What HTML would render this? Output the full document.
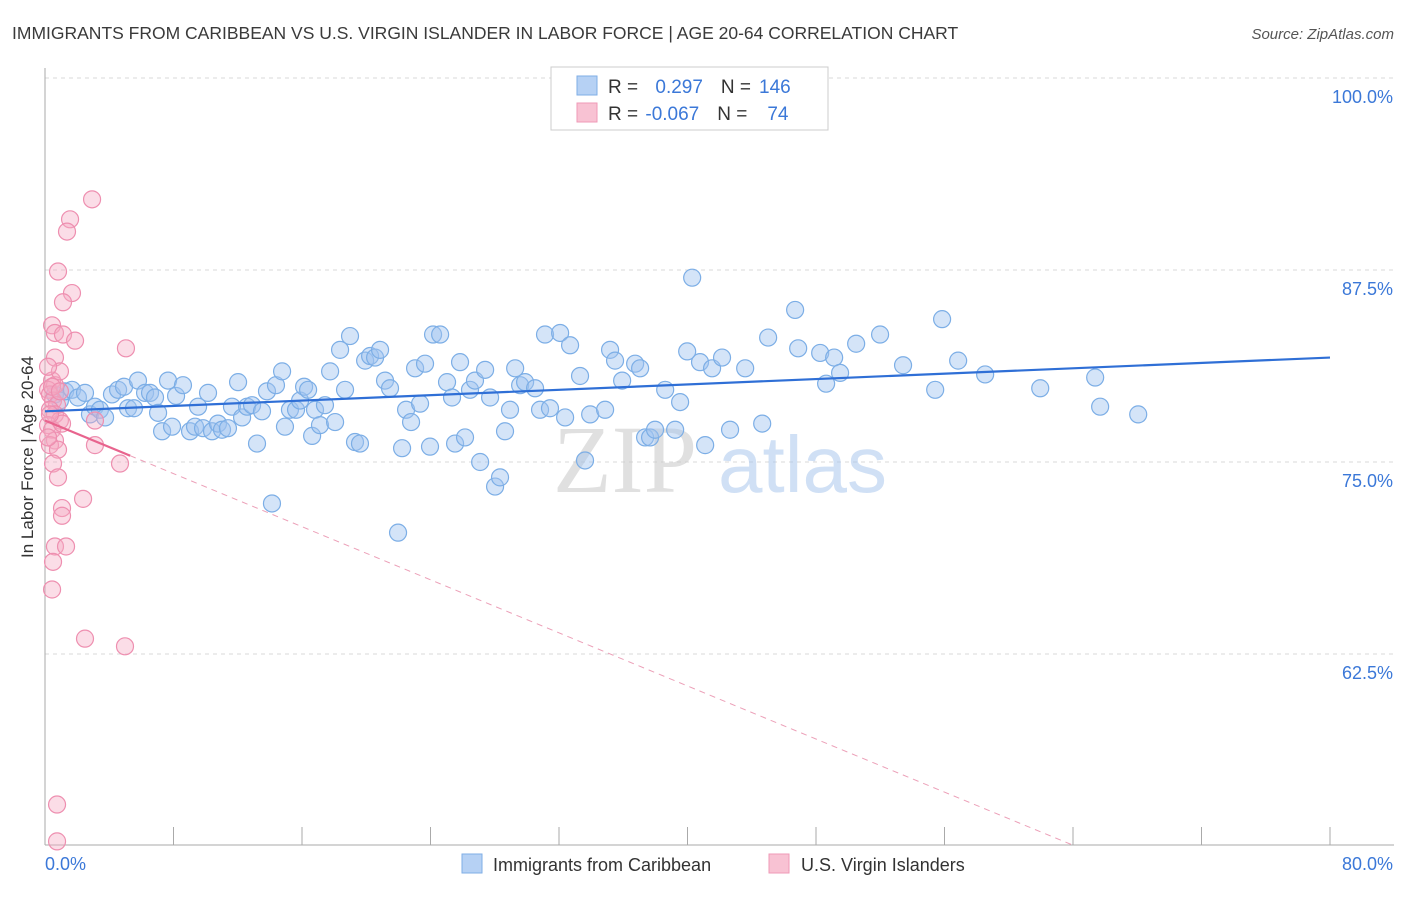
<!DOCTYPE html>
<html><head><meta charset="utf-8"><style>
body{margin:0;background:#fff;font-family:"Liberation Sans",sans-serif}
</style></head><body>
<svg id="chart" width="1406" height="892" xmlns="http://www.w3.org/2000/svg" font-family="Liberation Sans, sans-serif">
<text x="12" y="39" font-size="17.5" fill="#3a3a3a">IMMIGRANTS FROM CARIBBEAN VS U.S. VIRGIN ISLANDER IN LABOR FORCE | AGE 20-64 CORRELATION CHART</text>
<text x="1394" y="39" font-size="15" fill="#555" font-style="italic" text-anchor="end">Source: ZipAtlas.com</text>
<g id="grid"></g>
<g>
<text x="553" y="492" font-size="96" fill="#ccc" fill-opacity="0.6" font-family="Liberation Serif, serif">ZIP</text>
<text x="718" y="492" font-size="80" fill="#a9c6ec" fill-opacity="0.55">atlas</text>
</g>
<g id="pts"></g>
<g id="trend"></g>
<text transform="translate(33,457) rotate(-90)" font-size="17" fill="#333" text-anchor="middle">In Labor Force | Age 20-64</text>
<g>
<rect x="551" y="67" width="277" height="63" fill="#fff" stroke="#ccc"/>
<rect x="577" y="76" width="20" height="19" fill="#b6d1f4" stroke="#7faee6"/>
<rect x="577" y="103" width="20" height="19" fill="#f8c2d3" stroke="#ef9ab7"/>
<text x="608" y="93" font-size="19" fill="#333">R = <tspan fill="#3b78d8" dx="12">0.297</tspan><tspan fill="#333" dx="18">N =</tspan><tspan fill="#3b78d8" dx="8">146</tspan></text>
<text x="608" y="120" font-size="19" fill="#333">R = <tspan fill="#3b78d8" dx="2">-0.067</tspan><tspan fill="#333" dx="18">N =</tspan><tspan fill="#3b78d8" dx="20">74</tspan></text>
</g>
<g>
<rect x="462" y="854" width="20" height="19" fill="#b6d1f4" stroke="#7faee6"/>
<text x="493" y="871" font-size="18" fill="#333">Immigrants from Caribbean</text>
<rect x="769" y="854" width="20" height="19" fill="#f8c2d3" stroke="#ef9ab7"/>
<text x="801" y="871" font-size="18" fill="#333">U.S. Virgin Islanders</text>
</g>
</svg>
<script>
const blueX=[0.62,0.93,1.25,1.68,2.05,2.49,2.8,3.11,3.42,3.74,4.17,4.55,4.92,5.17,5.54,5.79,6.23,6.54,6.85,7.04,7.29,7.66,7.91,8.16,8.59,9.03,9.34,9.53,9.84,10.15,10.4,10.77,11.02,11.39,11.64,12.02,12.27,12.58,12.89,13.2,13.51,13.82,14.13,14.38,14.76,14.94,15.25,15.63,15.88,16.13,16.38,16.63,16.81,17.12,17.43,17.75,18.06,18.37,18.68,18.99,19.3,19.61,19.93,20.24,20.55,20.86,21.17,21.48,21.98,22.23,22.48,22.79,23.04,23.35,23.66,23.97,24.16,24.6,25.03,25.34,25.53,25.84,26.15,26.46,26.77,27.09,27.4,27.71,28.02,28.33,28.64,28.95,29.27,29.58,29.89,30.51,30.82,31.13,31.44,32.07,32.38,32.69,33.31,33.62,33.94,34.87,35.18,35.49,35.93,36.74,37.05,37.36,37.67,37.98,38.61,39.23,39.54,39.98,40.29,40.78,41.1,41.53,42.15,42.65,43.59,44.65,45.02,46.7,46.89,48.26,48.63,49.13,49.5,50.5,51.99,53.42,55.42,55.85,56.85,58.53,61.96,65.38,65.69,68.06];
const blueY=[79.4,79.0,79.6,79.7,79.2,79.5,78.1,78.6,78.4,77.9,79.4,79.7,79.9,78.5,78.5,80.3,79.5,79.5,79.2,78.2,77.0,80.3,77.3,79.3,80.0,77.0,77.3,78.6,77.2,79.5,77.0,77.5,77.1,77.2,78.6,80.2,77.9,78.6,78.7,76.2,78.3,79.6,72.3,80.0,80.9,77.3,78.4,78.4,79.0,79.9,79.7,76.7,78.4,77.4,78.7,80.9,77.6,82.3,79.7,83.2,76.3,76.2,81.6,81.9,81.8,82.3,80.3,79.8,70.4,75.9,78.4,77.6,81.1,78.8,81.4,76.0,83.3,83.3,80.2,79.2,76.2,81.5,76.6,79.7,80.3,75.0,81.0,79.2,73.4,74.0,77.0,78.4,81.1,80.0,80.2,79.8,78.4,83.3,78.5,83.4,77.9,82.6,80.6,75.1,78.1,78.4,82.3,81.6,80.3,81.4,81.1,76.6,76.6,77.1,79.7,77.1,78.9,82.2,87.0,81.5,76.1,81.1,81.8,77.1,81.1,77.5,83.1,84.9,82.4,82.1,80.1,81.8,80.8,82.7,83.3,81.3,79.7,84.3,81.6,80.7,79.8,80.5,78.6,78.1];
const pinkX=[0.44,0.62,0.19,0.31,0.5,0.75,0.31,0.62,0.93,0.19,0.44,0.62,0.31,0.81,0.5,0.81,1.06,1.06,0.62,1.31,0.5,0.44,2.49,4.98,0.75,0.75,2.93,1.56,1.37,0.81,1.68,1.12,0.44,0.62,1.12,1.87,0.62,0.93,0.19,5.04,3.11,3.11,4.67,2.37,0.44,0.93,1.06,0.31,0.19];
const pinkY=[80.3,80.0,79.7,79.4,79.0,78.7,78.4,78.1,77.7,77.4,77.1,76.4,76.1,75.8,74.9,74.0,72.0,71.5,69.5,69.5,68.5,66.7,63.5,63.0,52.7,50.3,92.1,90.8,90.0,87.4,86.0,85.4,83.9,83.4,83.3,82.9,81.8,80.9,81.2,82.4,77.7,76.1,74.9,72.6,79.9,79.6,77.5,78.1,76.6];
const blueTrend=[78.3,81.8];
const pinkTrend=[77.7,-0.432];
const yTicks=[100,87.5,75,62.5];
const yTickLabels=["100.0%","87.5%","75.0%","62.5%"];
const xTicks=[0,8,16,24,32,40,48,56,64,72,80];
const NS="http://www.w3.org/2000/svg";
const X=v=>45+v*16.0625, Y=v=>78+(100-v)*15.36;
function mk(t,a,p){const e=document.createElementNS(NS,t);for(const k in a)e.setAttribute(k,a[k]);p.appendChild(e);return e;}
const g=document.getElementById('grid');
yTicks.forEach((t,i)=>{
 const l=mk('line',{x1:45,x2:1394,y1:Y(t),y2:Y(t),stroke:'#d8d8d8','stroke-dasharray':'4,4'},g);
 
 
 const tx=mk('text',{x:1393,y:Y(t)+25,'font-size':18,fill:'#3b78d8','text-anchor':'end'},g);
 tx.textContent=yTickLabels[i];
 
 
});
const ax=mk('line',{x1:45,x2:45,y1:68,y2:845,stroke:'#aaa'},g);


const bx=mk('line',{x1:45,x2:1394,y1:845,y2:845,stroke:'#aaa'},g);


xTicks.forEach(t=>{const l=mk('line',{x1:X(t),x2:X(t),y1:827,y2:845,stroke:'#aaa'},g);
 
 });
const x0=mk('text',{x:45,y:870,'font-size':18,fill:'#3b78d8'},g);x0.textContent="0.0%";


const x1=mk('text',{x:1393,y:870,'font-size':18,fill:'#3b78d8','text-anchor':'end'},g);x1.textContent="80.0%";


const p=document.getElementById('pts');
blueX.forEach((v,i)=>{const c=mk('circle',{cx:X(v),cy:Y(blueY[i]),r:8.5,fill:'rgba(160,196,240,0.45)',stroke:'#7caee6','stroke-width':1.2},p);
 
 });
pinkX.forEach((v,i)=>{const c=mk('circle',{cx:X(v),cy:Y(pinkY[i]),r:8.5,fill:'rgba(245,170,195,0.4)',stroke:'#ee8fb0','stroke-width':1.2},p);
 
 });
const tr=document.getElementById('trend');
const bl=mk('line',{x1:X(0),y1:Y(blueTrend[0]),x2:X(80),y2:Y(blueTrend[1]),stroke:'#2f6fd6','stroke-width':2.2},tr);


const pe=5.3, pz=-pinkTrend[0]/pinkTrend[1]+ (50*1)/(-pinkTrend[1])*0;
const pyAt=x=>pinkTrend[0]+pinkTrend[1]*x;
const xEnd=(50-pinkTrend[0])/pinkTrend[1];
const ps=mk('line',{x1:X(0),y1:Y(pyAt(0)),x2:X(pe),y2:Y(pyAt(pe)),stroke:'#e8648e','stroke-width':2.2},tr);


const pd=mk('line',{x1:X(pe),y1:Y(pyAt(pe)),x2:X(xEnd),y2:Y(50),stroke:'#eca0b8','stroke-width':1,'stroke-dasharray':'6,5'},tr);


</script>
</body></html>
